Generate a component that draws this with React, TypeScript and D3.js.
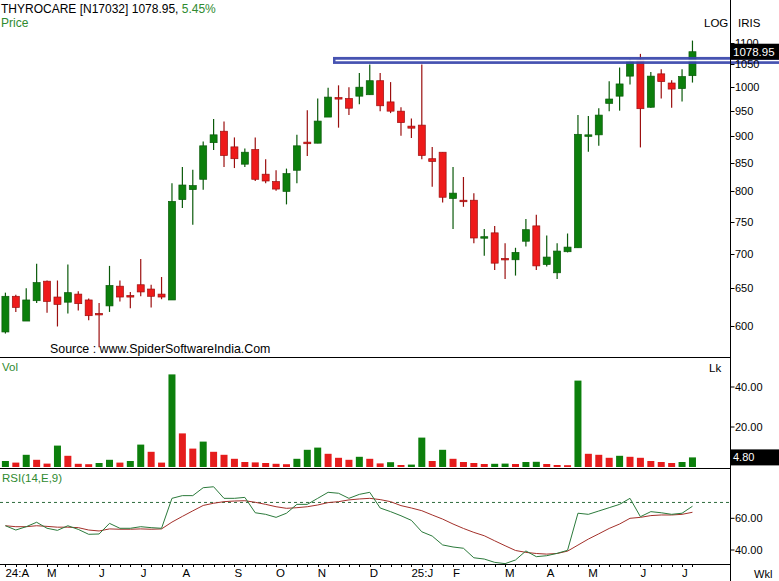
import React from "react";
import * as d3 from "d3";

const opens = [592,639,606,633,660,638,631,642,634,616,626,653,640,655,649,642,634,786,803,821,888,910,880,848,875,830,817,800,837,889,887,938,978,976,981,984,1014,969,950,920,922,858,870,788,785,785,724,732,693,691,719,743,684,672,703,709,901,903,966,981,1024,1060,958,1029,1009,997,1025];
const highs = [644,641,650,685,661,661,684,646,636,630,682,661,645,692,655,666,814,843,838,890,934,929,898,877,898,857,837,840,903,952,976,999,1004,1000,1031,1050,1031,1011,958,935,1050,880,870,843,825,797,738,743,716,709,754,761,728,716,731,942,940,956,1013,1043,1062,1074,1033,1039,1015,1039,1105];
const lows = [590,618,606,630,617,599,616,620,607,573,618,632,623,639,624,635,634,772,745,803,874,843,841,843,818,814,801,778,814,863,887,938,917,942,964,984,950,946,901,897,857,808,781,738,774,716,697,676,663,668,711,676,681,663,702,709,871,882,950,951,1006,879,957,976,957,970,1010];
const closes = [639,624,634,658,632,628,644,629,613,614,654,638,638,645,639,638,783,811,810,882,903,864,858,870,821,818,804,831,882,886,930,979,975,956,1000,1014,961,950,927,916,864,853,790,797,784,724,726,686,691,702,737,682,695,704,710,904,903,942,975,1007,1056,955,1024,1012,996,1023,1078.95];
const volumes = [3.0,2.2,6.1,3.6,1.7,10.7,5.6,1.6,1.4,2.0,3.6,2.2,3.0,11.2,7.6,2.2,46.3,16.8,9.2,12.7,7.6,6.1,4.1,2.5,2.3,2.0,1.6,1.4,4.1,8.6,9.7,6.6,4.6,3.6,5.1,4.1,1.8,2.4,1.0,1.2,14.7,3.0,8.6,4.1,2.5,2.0,1.5,1.6,1.7,1.5,2.5,2.6,1.5,1.0,0.9,43.2,6.6,6.1,4.6,5.6,5.1,4.6,3.0,2.5,2.0,2.5,4.8];
const rsi = [55.3,52.6,54.7,57.5,53.7,52.4,55.3,53.0,49.9,50.1,56.8,53.7,53.7,54.7,54.1,53.7,72.6,74.3,74.3,79.3,79.9,72.6,72.6,73.2,63.5,62.5,60.6,63.2,68.8,68.8,72.6,76.4,75.8,72.6,75.1,76.4,66.5,64.2,61.6,58.7,51.5,48.8,43.2,41.9,41.1,35.1,34.3,32.2,31.4,33.7,39.4,35.8,36.4,37.9,39.8,63.2,62.5,64.6,66.7,68.8,72.6,61.0,64.2,63.5,62.5,63.2,67.6];
const rsiSignal = [55.3,54.7,54.7,55.3,54.9,54.4,54.4,54.1,52.6,52.0,53.3,53.1,53.1,53.3,53.1,53.3,57.6,61.2,64.7,68.1,69.5,70.5,70.9,71.1,70.1,68.8,67.3,66.3,66.7,67.3,68.4,69.9,70.5,71.6,72.2,72.6,71.8,70.5,68.0,66.5,64.8,62.1,59.5,56.4,53.6,51.1,49.0,45.8,42.7,39.7,38.5,37.8,37.4,37.8,39.3,43.1,46.9,50.2,53.6,56.4,60.0,60.6,61.7,62.1,62.1,62.5,63.8];
const monthIdx = [0,4,9,13,17,22,26,30,35,39,43,48,52,56,61,65];
const monthText = ["24:A","M","J","J","A","S","O","N","D","25:J","F","M","A","M","J","J"];
const priceTicks = [600,650,700,750,800,850,900,950,1000,1050,1100];
const volTicks = [20,40];
const rsiTicks = [40,60];
const resistance = 1059;

const W = 779, H = 581;
const AX = 730.5;
const FONT = "'Liberation Sans', Arial, sans-serif";
const GREEN = "#0c7f0c", GREEN_D = "#0a5a0a", RED = "#ee1a1a", RED_D = "#9b0f0f";
const TXT_GREEN = "#2f8a2f";

export default function App() {
  const idx = d3.range(closes.length);
  const x = d3.scaleBand<number>().domain(idx).range([0.2, 0.2 + 10.41 * idx.length]);
  const cx = (i: number) => (x(i) as number) + x.bandwidth() / 2;
  const y = d3.scaleLog().domain([600, 1100]).range([325.7, 42.7]);
  const yv = d3.scaleLinear().domain([0, 40]).range([467, 387]);
  const yr = d3.scaleLinear().domain([40, 60]).range([550, 518.3]);
  const bw = 7;

  const rsiLine = d3.line<number>().x((_, i) => cx(i)).y((d) => yr(d));
  const last = closes[closes.length - 1];

  return (
    <svg width={W} height={H} style={{ position: "fixed", left: 0, top: 0, background: "#fff" }} fontFamily={FONT}>
      <rect width={W} height={H} fill="#fff" />
      {/* header */}
      <text x={1} y={13} fontSize={12} fill="#000">THYROCARE [N17032] 1078.95,<tspan fill={TXT_GREEN}>{"  5.45%"}</tspan></text>
      <text x={1} y={27} fontSize={12} fill={TXT_GREEN}>Price</text>
      <text x={704} y={27} fontSize={11.5} fill="#000">LOG</text>
      <text x={738} y={27} fontSize={11.5} fill="#000">IRIS</text>

      {/* candles */}
      {idx.map((i) => {
        const up = closes[i] >= opens[i];
        const c = cx(i);
        const top = y(Math.max(opens[i], closes[i]));
        const bot = y(Math.min(opens[i], closes[i]));
        const h = Math.max(1.5, bot - top);
        return (
          <g key={"c" + i}>
            <line x1={c} x2={c} y1={y(highs[i])} y2={y(lows[i])} stroke={up ? GREEN_D : RED_D} strokeWidth={1.2} />
            <rect x={c - bw / 2} y={top} width={bw} height={h} fill={up ? GREEN : RED} stroke={up ? GREEN_D : RED_D} strokeWidth={0.7} />
          </g>
        );
      })}

      {/* resistance line */}
      <g opacity={0.93}>
        <rect x={333} y={y(resistance) - 3.5} width={W - 333} height={7} fill="#3946ac" />
        <line x1={335.5} x2={W} y1={y(resistance)} y2={y(resistance)} stroke="#fff" strokeWidth={1.5} />
      </g>

      <text x={50} y={353} fontSize={12.4} fill="#000">Source : www.SpiderSoftwareIndia.Com</text>

      {/* price axis */}
      {priceTicks.map((t) => (
        <g key={"pt" + t}>
          <line x1={AX} x2={AX + 4} y1={Math.round(y(t)) + 0.5} y2={Math.round(y(t)) + 0.5} stroke="#000" />
          <text x={735} y={y(t) + 4} fontSize={11} fill="#000">{t}</text>
        </g>
      ))}
      <rect x={731} y={y(last) - 8} width={48} height={16} fill="#000" />
      <text x={733} y={y(last) + 4} fontSize={11.5} fill="#fff">{last.toFixed(2)}</text>

      {/* volume */}
      <text x={2} y={371} fontSize={11.5} fill={TXT_GREEN}>Vol</text>
      <text x={709} y={372} fontSize={11.5} fill="#000">Lk</text>
      {idx.map((i) => {
        const up = i === 0 || volumes[i] > volumes[i - 1];
        return (
          <rect key={"v" + i} x={cx(i) - bw / 2} y={yv(volumes[i])} width={bw} height={yv(0) - yv(volumes[i])} fill={up ? GREEN : "#e51c1c"} />
        );
      })}
      {volTicks.map((t) => (
        <g key={"vt" + t}>
          <line x1={AX} x2={AX + 4} y1={yv(t)} y2={yv(t)} stroke="#000" />
          <text x={735} y={yv(t) + 4} fontSize={11} fill="#000">{t.toFixed(2)}</text>
        </g>
      ))}
      <rect x={731} y={yv(volumes[volumes.length - 1]) - 8} width={48} height={16} fill="#000" />
      <text x={733} y={yv(volumes[volumes.length - 1]) + 4} fontSize={11} fill="#fff">{volumes[volumes.length - 1].toFixed(2)}</text>

      {/* RSI */}
      <text x={2} y={482} fontSize={11.5} fill={TXT_GREEN}>RSI(14,E,9)</text>
      <line x1={0} x2={AX} y1={yr(70)} y2={yr(70)} stroke="#2d6b3c" strokeDasharray="3,3" strokeWidth={1} />
      <path d={rsiLine(rsiSignal) || ""} fill="none" stroke="#a3302a" strokeWidth={1} />
      <path d={rsiLine(rsi) || ""} fill="none" stroke="#2b7a3b" strokeWidth={1} />
      {rsiTicks.map((t) => (
        <g key={"rt" + t}>
          <line x1={AX} x2={AX + 4} y1={yr(t)} y2={yr(t)} stroke="#000" />
          <text x={735} y={yr(t) + 4} fontSize={11} fill="#000">{t.toFixed(2)}</text>
        </g>
      ))}

      {/* separators */}
      <line x1={0} x2={AX} y1={357.5} y2={357.5} stroke="#000" />
      <line x1={0} x2={AX} y1={468.5} y2={468.5} stroke="#000" />
      <line x1={0} x2={AX} y1={564.5} y2={564.5} stroke="#000" />
      <line x1={AX} x2={AX} y1={0} y2={H} stroke="#000" />

      {/* x axis */}
      {idx.map((i) => (
        <line key={"xt" + i} x1={Math.round(cx(i)) + 0.5} x2={Math.round(cx(i)) + 0.5} y1={565} y2={567} stroke="#000" />
      ))}
      {monthIdx.map((m, k) => (
        <text key={"m" + k} x={cx(m)} y={577} fontSize={11.5} fill="#000">{monthText[k]}</text>
      ))}
      <text x={754} y={578} fontSize={11} fill="#000">Wkl</text>
    </svg>
  );
}
